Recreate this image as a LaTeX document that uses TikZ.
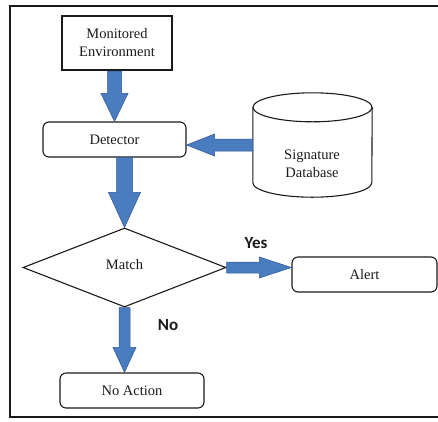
\documentclass[tikz,border=0pt]{standalone}
\usepackage{fontspec}
\setmainfont{Liberation Serif}
\newfontfamily\labelfont{Carlito}
\usetikzlibrary{shapes.geometric,calc}

\definecolor{inkline}{HTML}{1A1A1A}
\definecolor{arrowfill}{HTML}{4A7CC0}
\definecolor{arrowedge}{HTML}{2F5597}

\tikzset{
  frame/.style={draw=inkline, line width=2pt},
  envbox/.style={draw=inkline, line width=2.2pt, align=center, inner sep=0pt,
    font=\fontsize{14.5}{18}\selectfont, text=inkline},
  roundbox/.style={draw=inkline, line width=1.1pt, rounded corners=6pt, inner sep=0pt,
    font=\fontsize{14.5}{18}\selectfont, text=inkline},
  decision/.style={diamond, draw=inkline, line width=1.1pt, inner sep=0pt,
    font=\fontsize{14.5}{18}\selectfont, text=inkline},
  outline/.style={draw=inkline, line width=1.1pt},
  plaintext/.style={inner sep=0pt, align=center, font=\fontsize{14.5}{18}\selectfont, text=inkline},
  branchlabel/.style={inner sep=0pt, font=\labelfont\bfseries\fontsize{17}{20}\selectfont, text=inkline},
  blockarrow/.style={fill=arrowfill, draw=arrowedge, line width=0.5pt, line join=miter},
}

% thick block arrow: from, to, shaft half width, head half width, head length
\newcommand{\fatarrow}[5]{%
  \coordinate (fa-neck) at ($(#2)!#5!(#1)$);
  \filldraw[blockarrow]
    ($(#1)!#3!90:(#2)$) -- ($(fa-neck)!#3!90:(#2)$) -- ($(fa-neck)!#4!90:(#2)$)
    -- (#2)
    -- ($(fa-neck)!#4!-90:(#2)$) -- ($(fa-neck)!#3!-90:(#2)$) -- ($(#1)!#3!-90:(#2)$) -- cycle;
}

\begin{document}
\begin{tikzpicture}[x=1pt,y=-1pt]
  \useasboundingbox (0,0) rectangle (438,421);
  \draw[frame] (10,6) rectangle (442,417);

  % boxes
  \node[envbox, minimum width=110pt, minimum height=54pt] (env) at (117,43) {Monitored\\Environment};
  \node[roundbox, minimum width=143pt, minimum height=35pt] (det) at (114.5,139.5) {Detector};
  \node[decision, minimum width=203pt, minimum height=79pt] (match) at (124.5,267.5) {\raisebox{6pt}{Match}};
  \node[roundbox, minimum width=145pt, minimum height=35pt] (alert) at (364.5,274.5) {Alert};
  \node[roundbox, minimum width=144pt, minimum height=35pt] (noact) at (132,390.5) {No Action};

  % signature database cylinder
  \node[minimum width=119pt, minimum height=104pt, inner sep=0pt] (db) at (312.5,145) {};
  \draw[outline] ($(db.north)+(0,14.5)$) ellipse [x radius=59.5pt, y radius=14.5pt];
  \draw[outline] ($(db.north west)+(0,14.5)$) -- ($(db.south west)+(0,-14.5)$)
    arc[start angle=180, end angle=360, x radius=59.5pt, y radius=14.5pt]
    -- ($(db.north east)+(0,14.5)$);
  \node[plaintext] (dblabel) at (312,163.5) {Signature\\Database};

  % connector end points
  \coordinate (a1s) at (det.north |- env.south);
  \coordinate (a2s) at (match.north |- det.south);
  \coordinate (a3e) at (det.east |- db.west);
  \coordinate (a4e) at (alert.west |- match.east);
  \coordinate (a5e) at (match.south |- noact.north);

  % block arrows
  \fatarrow{a1s}{det.north}{7pt}{13.5pt}{28pt}
  \fatarrow{a2s}{match.north}{8pt}{16pt}{35pt}
  \fatarrow{db.west}{a3e}{6pt}{11pt}{28pt}
  \fatarrow{match.east}{a4e}{5.5pt}{10.5pt}{32pt}
  \fatarrow{match.south}{a5e}{5.5pt}{11.5pt}{25pt}

  % branch labels
  \node[branchlabel] (yes) at (256,243) {Yes};
  \node[branchlabel] (no) at (168,325) {No};
\end{tikzpicture}
\end{document}
